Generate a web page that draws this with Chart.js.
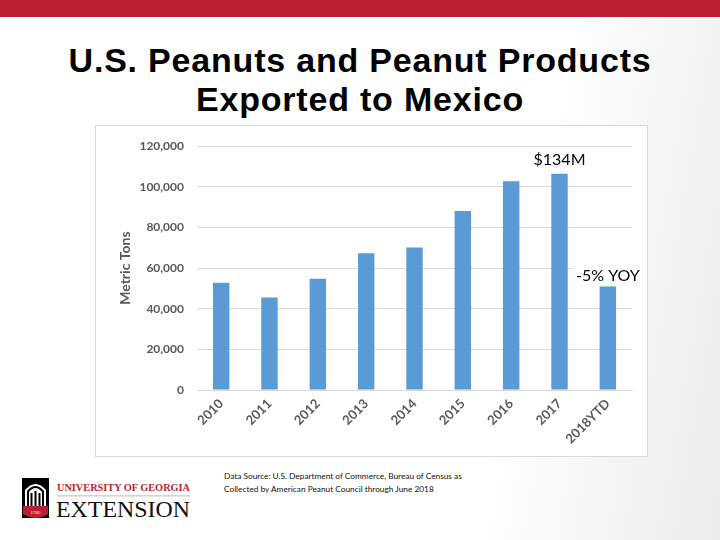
<!DOCTYPE html>
<html>
<head>
<meta charset="utf-8">
<script src="https://cdn.jsdelivr.net/npm/chart.js@4.4.1/dist/chart.umd.min.js"></script>
<style>
  html, body { margin: 0; padding: 0; }
  body {
    width: 720px; height: 540px; position: relative; overflow: hidden;
    background: linear-gradient(100deg, #ffffff 0%, #ffffff 70%, #f3f3f3 88%, #ebebeb 100%);
    font-family: "Liberation Sans", Arial, sans-serif;
  }
  #topbar { position: absolute; left: 0; top: 0; width: 720px; height: 17px; background: #BA1F33; }
  #title {
    position: absolute; left: 0; top: 41px; width: 720px; text-align: center;
    font-family: "Liberation Sans", Arial, sans-serif; font-size: 34px; line-height: 39px;
    color: #000; font-weight: bold; letter-spacing: 0.8px;
  }
  #chartbox {
    position: absolute; left: 95px; top: 125px; width: 553px; height: 332px;
    box-sizing: border-box; border: 1px solid #d9d9d9; background: #fff;
  }
  #chartbox canvas { display: block; }
  #source {
    position: absolute; left: 224px; top: 470px; font-family: Lato, "Open Sans", sans-serif;
    font-size: 8.3px; line-height: 13px; color: #111;
  }
  #logo { position: absolute; left: 20px; top: 476px; }
</style>
</head>
<body>
<div id="topbar"></div>
<div id="title">U.S. Peanuts and Peanut Products<br>Exported to Mexico</div>
<div id="chartbox"><canvas id="c" width="551" height="330"></canvas></div>
<div id="source">Data Source: U.S. Department of Commerce, Bureau of Census as<br>Collected by American Peanut Council through June 2018</div>
<svg id="logo" width="175" height="46" viewBox="0 0 175 46">
  <rect x="2" y="2" width="27" height="40" fill="#000"/>
  <path d="M5 30 L5 14 Q15.5 2 26 14 L26 30 Z" fill="#fff"/>
  <path d="M7 30 L7 15 Q15.5 5 24 15 L24 30 Z" fill="#000"/>
  <path d="M9 30 L9 16 Q15.5 8 22 16 L22 30 Z" fill="#fff"/>
  <rect x="10.5" y="17" width="2" height="13" fill="#000"/>
  <rect x="14.5" y="15" width="2" height="15" fill="#000"/>
  <rect x="18.5" y="17" width="2" height="13" fill="#000"/>
  <path d="M3 30 L28 30 L28 38 Q15.5 46 3 38 Z" fill="#BA1F33"/>
  <text x="15.5" y="38" font-size="5" fill="#fff" text-anchor="middle" font-family="Liberation Serif">1785</text>
  <text x="37" y="15" font-family="Liberation Serif, serif" font-weight="bold" font-size="11.2" fill="#BA1F33" textLength="133" lengthAdjust="spacingAndGlyphs">UNIVERSITY OF GEORGIA</text>
  <rect x="37" y="19.5" width="133" height="0.8" fill="#aaa"/>
  <text x="36" y="41" font-family="Liberation Serif, serif" font-size="24" fill="#111" textLength="134" lengthAdjust="spacingAndGlyphs">EXTENSION</text>
</svg>
<script>
const categories = ['2010', '2011', '2012', '2013', '2014', '2015', '2016', '2017', '2018YTD'];
const metricTons = [52800, 45500, 54700, 67300, 70200, 88100, 102700, 106500, 51000];
const yAxisTitle = 'Metric Tons';
const calloutLabels = ['$134M', '-5% YOY'];
const calloutCategories = ['2017', '2018YTD'];
const calloutValues = [113300, 56200];

const callouts = {
  id: 'callouts',
  afterDatasetsDraw(chart) {
    const ctx = chart.ctx;
    const xs = chart.scales.x, ys = chart.scales.y;
    ctx.save();
    ctx.font = '16px Lato, "Open Sans", sans-serif';
    ctx.textAlign = 'center';
    ctx.textBaseline = 'middle';
    calloutLabels.forEach((t, i) => {
      const x = xs.getPixelForValue(categories.indexOf(calloutCategories[i]));
      const y = ys.getPixelForValue(calloutValues[i]);
      const w = ctx.measureText(t).width + 6;
      ctx.fillStyle = '#ffffff';
      ctx.fillRect(x - w / 2, y - 9, w, 18);
      ctx.fillStyle = '#000000';
      ctx.fillText(t, x, y);
    });
    ctx.restore();
  }
};

new Chart(document.getElementById('c'), {
  type: 'bar',
  data: {
    labels: categories,
    datasets: [{
      data: metricTons,
      backgroundColor: '#5B9BD5',
      borderWidth: 0,
      barPercentage: 0.34,
      categoryPercentage: 1.0
    }]
  },
  options: {
    responsive: false,
    animation: false,
    devicePixelRatio: 1,
    layout: { padding: { left: 21, top: 17, right: 15, bottom: 0 } },
    plugins: { legend: { display: false }, tooltip: { enabled: false } },
    scales: {
      x: {
        grid: { display: false, drawTicks: false },
        border: { color: '#d9d9d9', width: 1 },
        ticks: {
          color: '#595959', font: { family: 'Lato, "Open Sans", sans-serif', size: 13, weight: 'bold' },
          maxRotation: 45, minRotation: 45, padding: 6
        },
        afterFit(s) { s.height = 66; }
      },
      y: {
        min: 0, max: 120000,
        grid: { color: '#d9d9d9', drawTicks: false },
        border: { display: false },
        ticks: {
          stepSize: 20000, color: '#595959', padding: 13,
          font: { family: 'Lato, "Open Sans", sans-serif', size: 12, weight: 'bold' },
          callback: v => v.toLocaleString('en-US')
        },
        title: {
          display: true, text: yAxisTitle, color: '#595959',
          font: { family: 'Lato, "Open Sans", sans-serif', size: 14, weight: 'bold' },
          padding: { top: 0, bottom: 0 }
        },
        afterFit(s) { s.width = 80; }
      }
    }
  },
  plugins: [callouts]
});
</script>
</body>
</html>
